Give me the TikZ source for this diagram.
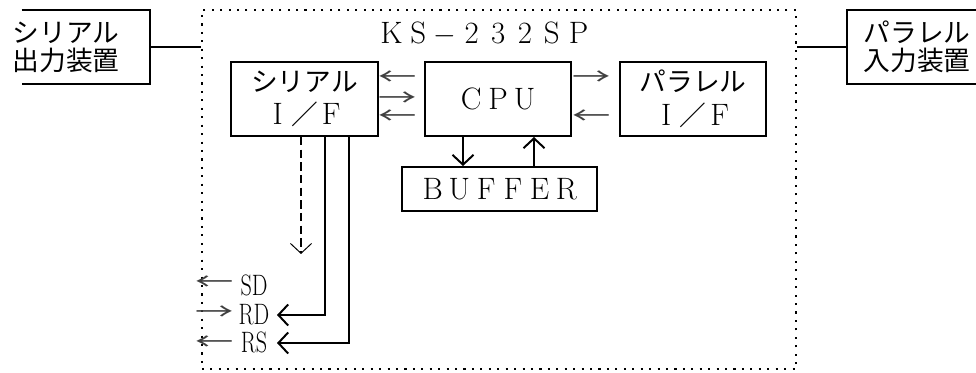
\documentclass[tikz,border=0pt]{standalone}
\usepackage{fontspec}
\newfontfamily\jp{Noto Sans CJK JP}
\usepackage{graphicx}
\usepackage{tikz}
\usetikzlibrary{arrows.meta, positioning, calc}
\newcommand{\zw}[1]{\makebox[1em]{\normalfont\fontsize{22}{24}\selectfont #1}}

\begin{document}
\begin{tikzpicture}[x=0.025cm, y=-0.025cm, >=Stealth,
  box/.style={draw, line width=1.4pt, inner sep=0pt, minimum height=1.85cm},
  txt/.style={font=\jp\fontsize{19}{24}\selectfont, align=center, inner sep=0pt},
  glyph/.style={font=\jp\fontsize{17}{17}\selectfont, text=black!75, inner sep=0pt},
  sig/.style={font=\fontsize{21}{21}\selectfont, inner sep=0pt},
  conn/.style={line width=1.4pt},
  tip/.style={conn, -{Straight Barb[length=7pt, width=15pt]}},
  frame/.style={draw, line width=1.5pt, dash pattern=on 1.5pt off 4.5pt, inner sep=0pt}]
  \useasboundingbox (0,0) rectangle (976,373);
  % Dotted outline of the unit
  \node[frame, minimum width=14.85cm, minimum height=8.975cm] (ks) at (499,189.5) {};
  \node[txt] (kslbl) at (485,34) {\zw{K}\zw{S}\zw{$-$}\zw{2}\zw{3}\zw{2}\zw{S}\zw{P}};
  % Inner blocks
  \node[box, txt, minimum width=3.675cm] (serif) at (304.5,99) {シリアル\\\zw{I}／\zw{F}};
  \node[box, txt, minimum width=3.65cm] (cpu) at (498,99) {\zw{C}\zw{P}\zw{U}};
  \node[box, txt, minimum width=3.65cm] (parif) at (693,99) {パラレル\\\zw{I}／\zw{F}};
  \node[box, txt, minimum width=4.875cm, minimum height=1.1cm] (buf) at (499.5,189) {\zw{B}\zw{U}\zw{F}\zw{F}\zw{E}\zw{R}};
  % Outside devices (open boxes)
  \node[inner sep=0pt, minimum width=3.2cm, minimum height=1.85cm] (serbox) at (86,47) {};
  \node[txt, font=\jp\fontsize{19}{20}\selectfont] (sertxt) at (66,47) {シリアル\\出力装置};
  \draw[conn] (serbox.north west) -| (serbox.south east) -- (serbox.south west);
  \node[inner sep=0pt, minimum width=3.325cm, minimum height=1.85cm] (parbox) at (913.5,47) {};
  \node[txt, font=\jp\fontsize{19}{20}\selectfont] (partxt) at (917,47) {パラレル\\入力装置};
  \draw[conn] (parbox.north east) -| (parbox.south west) -- (parbox.south east);
  \draw[conn] (serbox.east) -- (serbox.east -| ks.west);
  \draw[conn] (parbox.west) -- (parbox.west -| ks.east);
  % Small direction marks
  \foreach \x/\y/\dir [count=\i] in {398/78/←, 398/99/→, 398/117/←,
      592/78/→, 592/117/←,
      215/283/←, 215/313/→, 215/343/←}
    \node[glyph] (g\i) at (\x,\y) {\scalebox{1.6}[1]{\dir}};
  % Signal lines
  \node[sig] (sd) at (254,285) {\scalebox{0.75}[1]{SD}};
  \node[sig] (rd) at (254,315) {\scalebox{0.75}[1]{RD}};
  \node[sig] (rs) at (254,342) {\scalebox{0.75}[1]{RS}};
  \coordinate (sdend) at (301,254);
  \coordinate (rdtip) at (277,315);
  \coordinate (rstip) at (277,343);
  \draw[line width=1pt, dash pattern=on 6pt off 3pt,
    -{Straight Barb[length=7pt, width=15pt, line width=0.7pt]}] (serif.south -| sdend) -- (sdend);
  \draw[tip] ($(serif.south)+(20.5,0)$) |- (rdtip);
  \draw[tip] ($(serif.south)+(44.5,0)$) |- (rstip);
  % CPU <-> buffer
  \coordinate (down) at ($(cpu.south)+(-35,0)$);
  \coordinate (up) at ($(cpu.south)+(36,0)$);
  \draw[tip] (down) -- (down |- buf.north);
  \draw[tip] (up |- buf.north) -- (up);
\end{tikzpicture}
\end{document}
